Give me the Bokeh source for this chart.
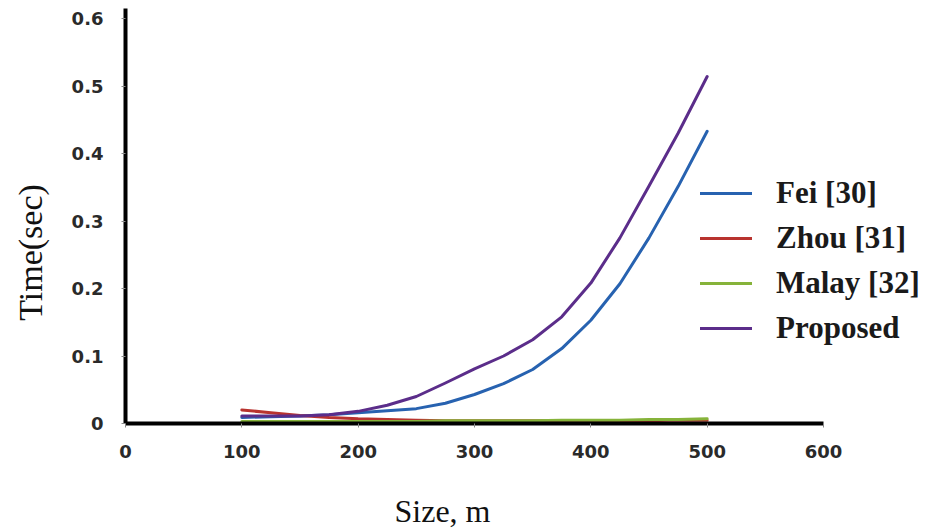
from bokeh.plotting import figure
from bokeh.models import FixedTicker, Legend, LegendItem, Label, Range1d, LinearAxis
from bokeh.embed import file_html
from bokeh.resources import INLINE

# ---- data ----
sizes = [100, 125, 150, 175, 200, 225, 250, 275, 300, 325, 350, 375, 400, 425, 450, 475, 500]
fei = [0.009, 0.010, 0.011, 0.013, 0.016, 0.019, 0.022, 0.030, 0.043, 0.059, 0.080, 0.111, 0.153, 0.207, 0.275, 0.351, 0.433]
zhou = [0.020, 0.016, 0.012, 0.009, 0.007, 0.006, 0.005, 0.004, 0.004, 0.004, 0.004, 0.004, 0.004, 0.004, 0.004, 0.005, 0.005]
malay = [0.003, 0.003, 0.003, 0.003, 0.003, 0.003, 0.003, 0.004, 0.004, 0.004, 0.004, 0.005, 0.005, 0.005, 0.006, 0.006, 0.007]
proposed = [0.011, 0.011, 0.011, 0.013, 0.018, 0.027, 0.040, 0.060, 0.081, 0.100, 0.124, 0.158, 0.208, 0.275, 0.352, 0.430, 0.514]

series_names = ["Fei [30]", "Zhou [31]", "Malay [32]", "Proposed"]
series_colors = ["#2762b0", "#b8332f", "#86b33a", "#5b2d8a"]

x_ticks = [0, 100, 200, 300, 400, 500, 600]
x_tick_labels = ["0", "100", "200", "300", "400", "500", "600"]
y_ticks = [0, 0.1, 0.2, 0.3, 0.4, 0.5, 0.6]
y_tick_labels = ["0", "0.1", "0.2", "0.3", "0.4", "0.5", "0.6"]

x_title = "Size, m"
y_title = "Time(sec)"

# ---- geometry: the frame covers the whole canvas; axes sit at fixed locations ----
W, H = 933, 531
x0_px, x600_px = 125.0, 823.0      # pixel of x=0 and x=600
y0_px, ypx_per_unit = 423.0, 675.0  # pixel of y=0, pixels per 1.0
sx = (x600_px - x0_px) / 600.0
x_range = Range1d(-x0_px / sx, (W - x0_px) / sx)
y_range = Range1d(-(H - y0_px) / ypx_per_unit, y0_px / ypx_per_unit)

p = figure(width=W, height=H, output_backend="svg", toolbar_location=None,
           x_range=x_range, y_range=y_range,
           x_axis_location=None, y_axis_location=None,
           min_border_left=0, min_border_right=0, min_border_top=0, min_border_bottom=0)
p.outline_line_color = None
p.background_fill_color = "white"
p.border_fill_color = "white"
p.grid.visible = False

xaxis = LinearAxis(fixed_location=0, bounds=(0, 600))
yaxis = LinearAxis(fixed_location=0, bounds=(0, 0.6145))
p.add_layout(xaxis, "below")
p.add_layout(yaxis, "left")

for ax in (xaxis, yaxis):
    ax.axis_line_color = "black"
    ax.axis_line_width = 4
    ax.major_tick_line_color = "#888888"
    ax.major_tick_line_width = 1
    ax.major_tick_out = 4
    ax.major_tick_in = 0
    ax.minor_tick_line_color = None
    ax.major_label_text_font = "DejaVu Sans"
    ax.major_label_text_font_style = "bold"
    ax.major_label_text_font_size = "18px"
    ax.major_label_text_color = "#2a2a2a"

xaxis.ticker = FixedTicker(ticks=x_ticks)
yaxis.ticker = FixedTicker(ticks=y_ticks)
xaxis.major_label_overrides = {t: l for t, l in zip(x_ticks, x_tick_labels)}
yaxis.major_label_overrides = {t: l for t, l in zip(y_ticks, y_tick_labels)}
xaxis.major_label_standoff = 17
yaxis.major_label_standoff = 18

renderers = []
for vals, col in zip([fei, zhou, malay, proposed], series_colors):
    r = p.line(sizes, vals, line_color=col, line_width=3, line_join="round", line_cap="round")
    renderers.append(r)

legend = Legend(items=[LegendItem(label=n, renderers=[r]) for n, r in zip(series_names, renderers)],
                location=(700, H - 346), orientation="vertical",
                label_text_font="Liberation Serif", label_text_font_style="bold",
                label_text_font_size="31px", label_text_color="#1a1a1a",
                glyph_width=52, glyph_height=30, label_height=30, label_standoff=24,
                spacing=9, padding=0, margin=0,
                border_line_color=None, background_fill_alpha=0)
p.add_layout(legend, "center")

p.add_layout(Label(x=30, y=H - 252, x_units="screen", y_units="screen", text=y_title,
                   angle=1.5708, text_align="center", text_baseline="middle",
                   text_font="Liberation Serif", text_font_size="34px", text_color="#111111"))
p.add_layout(Label(x=442, y=H - 510, x_units="screen", y_units="screen", text=x_title,
                   text_align="center", text_baseline="middle",
                   text_font="Liberation Serif", text_font_size="32px", text_color="#111111"))

open("out.html", "w").write(file_html(p, INLINE))
